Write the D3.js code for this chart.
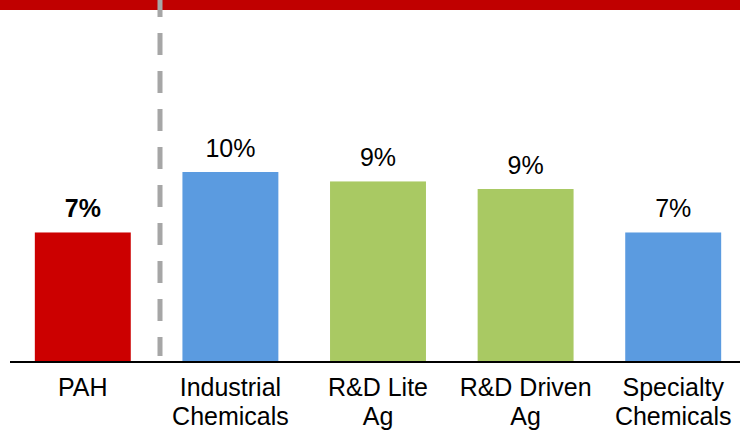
<!DOCTYPE html>
<html>
<head>
<meta charset="utf-8">
<script src="https://cdn.jsdelivr.net/npm/d3@7"></script>
<style>
    body { margin: 0; background: #fff; }
    svg { display: block; font-family: Arial, "Liberation Sans", sans-serif; }
</style>
</head>
<body>
<div id="chart"></div>
<script>

// chart data
var categories = ["PAH", "Industrial Chemicals", "R&D Lite Ag", "R&D Driven Ag", "Specialty Chemicals"];
var labelLines = [["PAH"], ["Industrial", "Chemicals"], ["R&D Lite", "Ag"], ["R&D Driven", "Ag"], ["Specialty", "Chemicals"]];
var values = [6.8, 10.0, 9.5, 9.1, 6.8];
var valueLabels = ["7%", "10%", "9%", "9%", "7%"];
var barColors = ["#cc0000", "#5b9be0", "#a9c963", "#a9c963", "#5b9be0"];

var width = 740, height = 430;
var baseline = 361;

var svg = d3.select("#chart").append("svg")
    .attr("width", width)
    .attr("height", height);

// red header band
svg.append("rect")
    .attr("x", 0)
    .attr("y", 0)
    .attr("width", width)
    .attr("height", 10)
    .attr("fill", "#c00000");

// scales
var x = d3.scaleBand()
    .domain(categories)
    .range([9, 747])
    .paddingInner(0.35)
    .paddingOuter(0.175);

var y = d3.scaleLinear()
    .domain([0, 10])
    .range([baseline, baseline - 189]);

// bars
svg.selectAll(".bar")
    .data(values)
    .enter()
    .append("rect")
    .attr("class", "bar")
    .attr("x", (d, i) => x(categories[i]))
    .attr("width", x.bandwidth())
    .attr("y", d => y(d))
    .attr("height", d => y(0) - y(d))
    .attr("fill", (d, i) => barColors[i]);

// value labels
svg.selectAll(".topLabel")
    .data(values)
    .enter()
    .append("text")
    .attr("class", "topLabel")
    .attr("text-anchor", "middle")
    .attr("transform", (d, i) => "translate(" + (x(categories[i]) + x.bandwidth() / 2) + "," + (y(d) - 15) + ") scale(1,1.06)")
    .style("font-size", "25px")
    .style("font-weight", (d, i) => i == 0 ? "bold" : "normal")
    .attr("fill", "#000")
    .text((d, i) => valueLabels[i]);

// separator between PAH and the peer groups
svg.append("line")
    .attr("x1", 160)
    .attr("x2", 160)
    .attr("y1", -5)
    .attr("y2", 356)
    .attr("stroke", "#a6a6a6")
    .attr("stroke-width", 5)
    .attr("stroke-dasharray", "22,16");

// x axis line
svg.append("line")
    .attr("x1", 10)
    .attr("x2", width)
    .attr("y1", baseline + 1)
    .attr("y2", baseline + 1)
    .attr("stroke", "#000")
    .attr("stroke-width", 2);

// category labels
var catLabels = svg.selectAll(".catLabel")
    .data(labelLines)
    .enter()
    .append("text")
    .attr("class", "catLabel")
    .attr("text-anchor", "middle")
    .attr("transform", (d, i) => "translate(" + (x(categories[i]) + x.bandwidth() / 2) + ",396) scale(1,1.06)")
    .style("font-size", "25px")
    .attr("fill", "#000");

catLabels.selectAll("tspan")
    .data(d => d)
    .enter()
    .append("tspan")
    .attr("x", 0)
    .attr("y", (d, i) => i * 27.5)
    .text(d => d);

</script>
</body>
</html>
